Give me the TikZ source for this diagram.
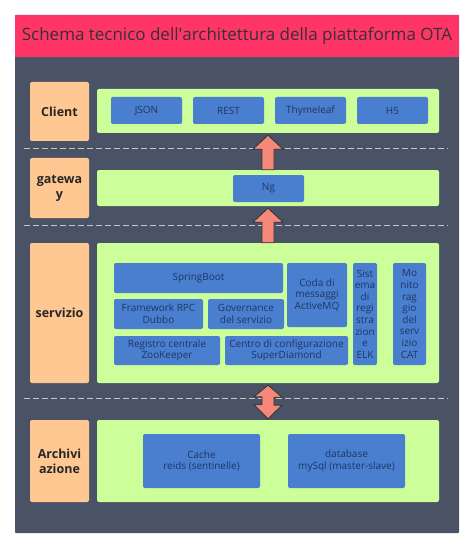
\documentclass[tikz,border=0pt]{standalone}
\usepackage{fontspec}
\setmainfont{Open Sans}
\usepackage{tikz}
\usetikzlibrary{calc, positioning}
\definecolor{otaTitle}{HTML}{FF3568}
\definecolor{otaPanel}{HTML}{4A5366}
\definecolor{otaPeach}{HTML}{FFC892}
\definecolor{otaGreen}{HTML}{CCFF99}
\definecolor{otaBlue}{HTML}{4A7FCF}
\definecolor{otaInk}{HTML}{1E3563}
\definecolor{otaSalmon}{HTML}{F5887A}
\colorlet{otaDash}{gray!45}

% block arrow going up from #1 (lower node) to #2 (upper node)
\newcommand{\upblock}[2]{%
  \draw[blockarrow] ($(#2.south)+(0,2)$) coordinate (tip) -- ++(15,14) -- ++(-9,0)
    -- ([xshift=6pt]#1.north) -- ([xshift=-6pt]#1.north)
    -- ($(tip)+(-6,14)$) -- ($(tip)+(-15,14)$) -- cycle;}

\begin{document}
\begin{tikzpicture}[x=1pt, y=-1pt,
  layer/.style={fill=otaPeach, rounded corners=2pt, minimum width=59pt, align=center,
    text=black!85, font=\fontsize{12.5}{15}\selectfont\bfseries},
  row/.style={fill=otaGreen, rounded corners=2pt, minimum width=342pt},
  item/.style={fill=otaBlue, rounded corners=2pt, inner sep=0pt, align=center,
    text=otaInk, font=\fontsize{10}{11.6}\selectfont},
  blockarrow/.style={fill=otaSalmon, draw=black!80, line width=0.8pt, line join=miter},
  divider/.style={otaDash, line width=0.8pt, dash pattern=on 6pt off 3pt}]
  \useasboundingbox (0,0) rectangle (474,548);

  % Title and panel
  \fill[otaPanel, rounded corners=1pt] (15,15) rectangle (459,533);
  \node[fill=otaTitle, minimum width=444pt, minimum height=42pt, inner sep=0pt,
    text=black!80, font=\fontsize{17}{20}\selectfont] (title) at (237,36)
    {Schema tecnico dell\textquotesingle architettura della piattaforma OTA};

  % Client
  \node[layer, minimum height=59pt] (clientlbl) at (59.5,111.5) {Client};
  \node[row, minimum height=44pt] (clientrow) at (268,111) {};
  \node[item, minimum width=71pt, minimum height=27pt] (json) at (146.5,110.5) {JSON};
  \node[item, minimum width=71pt, minimum height=27pt] (rest) at (228.5,110.5) {REST};
  \node[item, minimum width=71pt, minimum height=27pt] (thyme) at (310.5,110.5) {Thymeleaf};
  \node[item, minimum width=71pt, minimum height=27pt] (hfive) at (392.5,110.5) {H5};

  \draw[divider] (24,148) -- (448,148);

  % Gateway
  \node[layer, minimum height=60pt] (gwlbl) at (59.5,188) {gatewa\\y};
  \node[row, minimum height=36pt] (gwrow) at (268,188) {};
  \node[item, minimum width=71pt, minimum height=27pt] (ng) at (268.5,188.5) {Ng};

  \draw[divider] (24,225) -- (448,225);

  % Servizio
  \node[layer, minimum height=140pt] (svclbl) at (59.5,313) {servizio};
  \node[row, minimum height=140pt] (svcrow) at (268,313) {};
  \node[item, minimum width=169pt, minimum height=30pt] (spring) at (198.5,278) {SpringBoot};
  \node[item, minimum width=60pt, minimum height=64pt] (mq) at (317,295) {Coda di\\messaggi\\ActiveMQ};
  \node[item, minimum width=24pt, minimum height=102pt] (elk) at (365,314)
    {Sist\\ema\\di\\regi\\stra\\zion\\e\\ELK};
  \node[item, minimum width=33pt, minimum height=102pt] (cat) at (409.5,314)
    {Mo\\nito\\rag\\gio\\del\\serv\\izio\\CAT};
  \node[item, minimum width=89pt, minimum height=30pt] (dubbo) at (158.5,314) {Framework RPC\\Dubbo};
  \node[item, minimum width=76pt, minimum height=30pt] (gov) at (246,314) {Governance\\del servizio};
  \node[item, minimum width=106pt, minimum height=29pt] (zk) at (167,350.5) {Registro centrale\\ZooKeeper};
  \node[item, minimum width=123pt, minimum height=29pt] (diamond) at (286.5,350.5)
    {Centro di configurazione\\SuperDiamond};

  \draw[divider] (24,398) -- (448,398);

  % Archiviazione
  \node[layer, minimum height=82pt] (storelbl) at (59.5,461) {Archivi\\azione};
  \node[row, minimum height=82pt] (storerow) at (268,461) {};
  \node[item, minimum width=117pt, minimum height=54pt] (cache) at (201.5,461) {Cache\\reids (sentinelle)};
  \node[item, minimum width=117pt, minimum height=54pt] (db) at (346.5,461) {database\\mySql (master-slave)};

  % Arrows between layers
  \upblock{gwrow}{clientrow}
  \upblock{svcrow}{gwrow}
  \draw[blockarrow] ($(svcrow.south)+(0,2)$) coordinate (top) -- ++(14,12) -- ++(-8,0) -- ++(0,8)
    -- ++(8,0) -- ($(storerow.north)+(0,-1)$) -- ++(-14,-14) -- ++(8,0) -- ++(0,-8)
    -- ++(-8,0) -- cycle;
\end{tikzpicture}
\end{document}
